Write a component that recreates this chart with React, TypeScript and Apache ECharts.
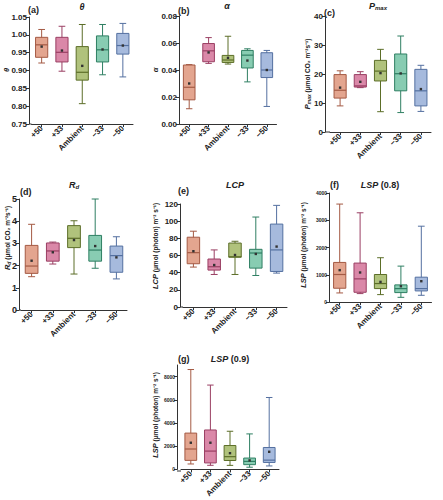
import React, { useEffect, useRef } from "react";
import * as echarts from "echarts";

const categories = ["+50", "+33", "Ambient", "−33", "−50"];

// box rows: [min, Q1, median, Q3, max]
const thetaBox = [
  [0.921, 0.937, 0.972, 0.993, 1.015],
  [0.898, 0.924, 0.951, 0.993, 1.024],
  [0.807, 0.873, 0.895, 0.967, 1.029],
  [0.888, 0.924, 0.958, 0.997, 1.029],
  [0.882, 0.946, 0.970, 1.004, 1.032],
];
const thetaMean = [0.967, 0.956, 0.913, 0.959, 0.970];

const alphaBox = [
  [0.0113, 0.0179, 0.0272, 0.0437, 0.044],
  [0.0449, 0.0461, 0.0542, 0.0596, 0.064],
  [0.0444, 0.0456, 0.0474, 0.0508, 0.065],
  [0.0312, 0.0415, 0.051, 0.0545, 0.0557],
  [0.013, 0.0344, 0.04, 0.0528, 0.0545],
];
const alphaMean = [0.03, 0.053, 0.049, 0.047, 0.04];

const pmaxBox = [
  [9.0, 11.7, 14.4, 19.8, 21.1],
  [15.3, 15.5, 15.9, 19.8, 20.8],
  [7.0, 17.6, 21.0, 24.7, 28.5],
  [6.7, 14.2, 20.1, 26.9, 33.1],
  [7.1, 9.0, 14.2, 21.6, 23.0],
];
const pmaxMean = [15.3, 17.3, 20.3, 20.2, 14.8];

const rdBox = [
  [1.5, 1.65, 1.98, 2.91, 3.86],
  [2.07, 2.2, 2.66, 3.02, 3.06],
  [1.62, 2.81, 3.23, 3.8, 4.02],
  [1.88, 2.2, 2.7, 3.36, 5.0],
  [1.4, 1.7, 2.45, 2.88, 3.3],
];
const rdMean = [2.22, 2.6, 3.15, 2.88, 2.37];

const lcpBox = [
  [46.5, 50.4, 63.3, 81.3, 88.3],
  [37.9, 43.0, 46.9, 55.9, 66.5],
  [37.9, 58.0, 58.5, 74.5, 76.6],
  [36.7, 45.3, 62.9, 67.2, 104.8],
  [39.5, 41.4, 66.5, 96.6, 118.4],
];
const lcpMean = [65.0, 48.9, 60.6, 61.8, 70.4];

const lsp08Box = [
  [332, 505, 1009, 1452, 3594],
  [308, 357, 849, 1428, 3274],
  [271, 492, 677, 1009, 1625],
  [172, 345, 492, 628, 1317],
  [246, 406, 492, 911, 2782],
];
const lsp08Mean = [1169, 1083, 738, 578, 763];

const lsp09Box = [
  [470, 780, 1760, 3130, 8610],
  [355, 560, 1580, 3400, 7270],
  [350, 770, 1100, 2060, 3290],
  [190, 410, 690, 980, 3060],
  [300, 600, 800, 1890, 6200],
];
const lsp09Mean = [2300, 2300, 1400, 780, 1520];

const thetaTicks = [0.75, 1.05, 0.05];
const alphaTicks = [0, 0.08, 0.02];
const pmaxTicks = [0, 40, 10];
const rdTicks = [0, 5, 1];
const lcpTicks = [0, 120, 20];
const lsp08Ticks = [0, 4000, 1000];
const lsp09Ticks = [0, 9000, 2000];
const lsp09Labels = [0, 2000, 4000, 6000, 8000];

const palette = [
  { fill: "#e3a58f", stroke: "#a45a44" },
  { fill: "#da88a8", stroke: "#9a3f63" },
  { fill: "#b0c27c", stroke: "#5c6e28" },
  { fill: "#88ccb2", stroke: "#2f7f63" },
  { fill: "#a6badd", stroke: "#5470a0" },
];

const FONT = "'Liberation Sans', Arial, sans-serif";

type Panel = {
  box: number[][];
  mean: number[];
  ticks: number[];
  decimals: number;
  labelSize: number;
  axisX: number;
  catLeft: number;
  catRight: number;
  top: number;
  bottom: number;
  customLabels?: number[];
};

const panels: Panel[] = [
  { box: thetaBox, mean: thetaMean, ticks: thetaTicks, decimals: 2, labelSize: 8, axisX: 29, catLeft: 31.5, catRight: 133, top: 17, bottom: 124 },
  { box: alphaBox, mean: alphaMean, ticks: alphaTicks, decimals: 2, labelSize: 8, axisX: 179, catLeft: 179.5, catRight: 276.5, top: 16, bottom: 124 },
  { box: pmaxBox, mean: pmaxMean, ticks: pmaxTicks, decimals: 0, labelSize: 8, axisX: 325, catLeft: 330, catRight: 431, top: 16, bottom: 132 },
  { box: rdBox, mean: rdMean, ticks: rdTicks, decimals: 0, labelSize: 9, axisX: 19, catLeft: 21, catRight: 127, top: 199, bottom: 310 },
  { box: lcpBox, mean: lcpMean, ticks: lcpTicks, decimals: 0, labelSize: 8, axisX: 180, catLeft: 183, catRight: 287, top: 204, bottom: 307 },
  { box: lsp08Box, mean: lsp08Mean, ticks: lsp08Ticks, decimals: 0, labelSize: 5, axisX: 329, catLeft: 329.5, catRight: 431.5, top: 193, bottom: 302 },
  { box: lsp09Box, mean: lsp09Mean, ticks: lsp09Ticks, decimals: 0, labelSize: 5, axisX: 177, catLeft: 181, catRight: 279, top: 365, bottom: 471, customLabels: lsp09Labels },
];

const renderBox = (params: any, api: any) => {
  const idx = api.value(0);
  const x = api.coord([idx, 0])[0];
  const y = (d: number) => api.coord([idx, api.value(d)])[1];
  const yMin = y(1), yQ1 = y(2), yMed = y(3), yQ3 = y(4), yMax = y(5), yMean = y(6);
  const bw = api.size([1, 0])[0] * 0.6;
  const cw = bw * 0.55;
  const c = palette[idx % palette.length];
  const ls = { stroke: c.stroke, lineWidth: 1 };
  return {
    type: "group",
    children: [
      { type: "line", shape: { x1: x, y1: yMax, x2: x, y2: yMin }, style: ls },
      { type: "line", shape: { x1: x - cw / 2, y1: yMax, x2: x + cw / 2, y2: yMax }, style: ls },
      { type: "line", shape: { x1: x - cw / 2, y1: yMin, x2: x + cw / 2, y2: yMin }, style: ls },
      { type: "rect", shape: { x: x - bw / 2, y: yQ3, width: bw, height: Math.max(yQ1 - yQ3, 0.5) }, style: { fill: c.fill, stroke: c.stroke, lineWidth: 1 } },
      { type: "line", shape: { x1: x - bw / 2, y1: yMed, x2: x + bw / 2, y2: yMed }, style: { stroke: c.stroke, lineWidth: 1.2 } },
      { type: "rect", shape: { x: x - 1.2, y: yMean - 1.2, width: 2.4, height: 2.4 }, style: { fill: "#333" } },
    ],
  };
};

const titles = [
  { tag: "(a)", tx: 28, ty: 10, text: "{t|θ}", cx: 82, cy: 6.5 },
  { tag: "(b)", tx: 178, ty: 11, text: "{t|α}", cx: 227, cy: 6 },
  { tag: "(c)", tx: 324, ty: 13, text: "{t|P}{ts|max}", cx: 378, cy: 6 },
  { tag: "(d)", tx: 20, ty: 192, text: "{t|R}{ts|d}", cx: 74, cy: 185 },
  { tag: "(e)", tx: 178, ty: 191, text: "{t|LCP}", cx: 235, cy: 185 },
  { tag: "(f)", tx: 330, ty: 185, text: "{t|LSP}{tn| (0.8)}", cx: 380, cy: 185 },
  { tag: "(g)", tx: 178, ty: 359, text: "{t|LSP}{tn| (0.9)}", cx: 230, cy: 359 },
];

const yNames = [
  { text: "{i|θ}", x: 6, y: 70 },
  { text: "{i|α}", x: 155, y: 70 },
  { text: "{i|P}{s|max}{n| (μmol CO₂ m⁻²s⁻¹)}", x: 307, y: 74 },
  { text: "{i|R}{s|d}{n| (μmol CO₂ m⁻²s⁻¹)}", x: 7, y: 238 },
  { text: "{i|LCP}{n| (μmol (photon) m⁻² s⁻¹)}", x: 155, y: 246 },
  { text: "{i|LSP}{n| (μmol (photon) m⁻² s⁻¹)}", x: 303, y: 245 },
  { text: "{i|LSP}{n| (μmol (photon) m⁻² s⁻¹)}", x: 155, y: 415 },
];

const richTitle = {
  t: { fontFamily: FONT, fontSize: 9, fontWeight: "bold", fontStyle: "italic", fill: "#222" },
  ts: { fontFamily: FONT, fontSize: 6, fontWeight: "bold", fontStyle: "italic", fill: "#222", verticalAlign: "bottom", padding: [4, 0, 0, 0] },
  tn: { fontFamily: FONT, fontSize: 9, fontWeight: "bold", fill: "#222" },
};
const richName = {
  i: { fontFamily: FONT, fontSize: 7.5, fontWeight: "bold", fontStyle: "italic", fill: "#222" },
  s: { fontFamily: FONT, fontSize: 5, fontWeight: "bold", fontStyle: "italic", fill: "#222", verticalAlign: "bottom", padding: [3, 0, 0, 0] },
  n: { fontFamily: FONT, fontSize: 6.5, fontWeight: "bold", fill: "#222" },
};

export default function App() {
  const ref = useRef<HTMLDivElement>(null);
  useEffect(() => {
    if (!ref.current) return;
    const chart = echarts.init(ref.current, undefined, { renderer: "svg" });
    const grid: any[] = [];
    const xAxis: any[] = [];
    const yAxis: any[] = [];
    const series: any[] = [];
    const graphic: any[] = [];
    panels.forEach((p, i) => {
      grid.push({ left: p.catLeft, top: p.top, width: p.catRight - p.catLeft, height: p.bottom - p.top, containLabel: false });
      xAxis.push({
        type: "category",
        gridIndex: i,
        data: categories,
        axisLine: { lineStyle: { color: "#333", width: 1 } },
        axisTick: { show: true, alignWithLabel: true, length: 3, lineStyle: { color: "#333" } },
        axisLabel: { rotate: 45, interval: 0, fontSize: 8, fontWeight: "bold", color: "#222", fontFamily: FONT, margin: 3 },
        splitLine: { show: false },
      });
      const y: any = {
        type: "value",
        gridIndex: i,
        min: p.ticks[0],
        max: p.ticks[1],
        interval: p.ticks[2],
        offset: p.catLeft - p.axisX,
        axisLine: { show: true, lineStyle: { color: "#333", width: 1 } },
        axisTick: { show: true, length: 3, lineStyle: { color: "#333" } },
        axisLabel: {
          fontSize: p.labelSize,
          fontWeight: "bold",
          color: "#222",
          fontFamily: FONT,
          margin: 2,
          formatter: (v: number) => v.toFixed(p.decimals),
        },
        splitLine: { show: false },
      };
      if (p.customLabels) {
        y.axisLabel.customValues = p.customLabels;
        y.axisTick.customValues = p.customLabels;
      }
      yAxis.push(y);
      series.push({
        type: "custom",
        xAxisIndex: i,
        yAxisIndex: i,
        clip: false,
        renderItem: renderBox,
        encode: { x: 0, y: [1, 2, 3, 4, 5, 6] },
        data: p.box.map((b, k) => [k, ...b, p.mean[k]]),
      });
      if (p.catLeft - p.axisX > 0.6) {
        graphic.push({
          type: "line",
          shape: { x1: p.axisX, y1: p.bottom, x2: p.catLeft, y2: p.bottom },
          style: { stroke: "#333", lineWidth: 1 },
        });
      }
    });
    titles.forEach((t) => {
      graphic.push({
        type: "text",
        x: t.tx,
        y: t.ty,
        style: { text: t.tag, fontFamily: FONT, fontSize: 9, fontWeight: "bold", fill: "#222", align: "left", verticalAlign: "middle" },
      });
      graphic.push({
        type: "text",
        x: t.cx,
        y: t.cy,
        style: { text: t.text, rich: richTitle, align: "center", verticalAlign: "middle" },
      });
    });
    yNames.forEach((n) => {
      graphic.push({
        type: "text",
        x: n.x,
        y: n.y,
        rotation: Math.PI / 2,
        style: { text: n.text, rich: richName, align: "center", verticalAlign: "middle" },
      });
    });
    chart.setOption({
      animation: false,
      backgroundColor: "#ffffff",
      grid,
      xAxis,
      yAxis,
      series,
      graphic,
    });
    return () => chart.dispose();
  }, []);
  return <div ref={ref} style={{ position: "absolute", left: 0, top: 0, width: 443, height: 500 }} />;
}
